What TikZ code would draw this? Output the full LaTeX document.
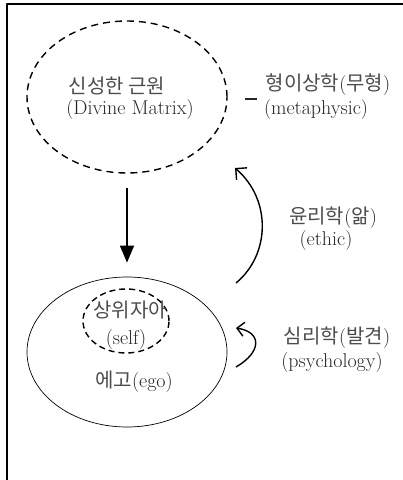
\documentclass[tikz,border=0pt]{standalone}
\usepackage{fontspec}
\newfontfamily\krfont{Noto Sans CJK KR}
\usetikzlibrary{shapes.geometric,arrows.meta}
\definecolor{labelgray}{gray}{0.15}
\definecolor{krgray}{gray}{0.3}
\newcommand{\ko}[1]{{\krfont\fontsize{20bp}{24bp}\selectfont\color{krgray}#1}}
\tikzset{
  lbl/.style={text=labelgray,font=\fontsize{20bp}{24bp}\selectfont,inner sep=0pt},
  realm/.style={ellipse,inner sep=0pt},
}
\begin{document}
\begin{tikzpicture}[>=latex,line join=bevel,]
\useasboundingbox (0bp,0bp) rectangle (403bp,480bp);
%%
\draw [line width=1.5bp] (7bp,0bp) -- (7bp,476bp) -- (403bp,476bp);
%
\node (node_0) at (127.0bp,383.0bp) [realm,draw,dashed,dash pattern=on 7bp off 5bp,line width=1.4bp,minimum width=200bp,minimum height=152bp] {};
  \node (node_1) at (127.0bp,128.0bp) [realm,draw,line width=0.7bp,minimum width=200bp,minimum height=150bp] {};
  \node (node_2) at (126.0bp,159.0bp) [realm,draw,dashed,dash pattern=on 6bp off 4bp,line width=1.4bp,minimum width=86bp,minimum height=64bp] {};
%
\node (label_0) at (117.0bp,394.0bp) [lbl] {\ko{신성한 근원}};
  \node (label_1) at (130.0bp,370.0bp) [lbl] {(Divine Matrix)};
  \node (dash_0) at (251.0bp,381.0bp) [lbl] {\rule{12bp}{1.3bp}};
  \node (label_2) at (328.0bp,395.0bp) [lbl] {\ko{형이상학}(\ko{무형})};
  \node (label_3) at (316.0bp,370.0bp) [lbl] {(metaphysic)};
  \node (label_4) at (333.0bp,262.0bp) [lbl] {\ko{윤리학}(\ko{앎})};
  \node (label_5) at (326.0bp,239.0bp) [lbl] {(ethic)};
  \node (label_6) at (337.0bp,142.0bp) [lbl] {\ko{심리학}(\ko{발견})};
  \node (label_7) at (332.0bp,117.0bp) [lbl] {(psychology)};
  \node (label_8) at (130.0bp,170.0bp) [lbl] {\ko{상위자아}};
  \node (label_9) at (126.0bp,140.0bp) [lbl] {(self)};
  \node (label_10) at (134.0bp,98.0bp) [lbl] {\ko{에고}(ego)};
%
\coordinate (ethic_start) at (236.0bp,197.0bp);
  \coordinate (ethic_end) at (235.0bp,312.0bp);
  \coordinate (psy_start) at (236.0bp,113.0bp);
  \coordinate (psy_end) at (236.0bp,152.0bp);
%
\draw [black,line width=1.4bp,-{Triangle[length=17bp,width=14bp]},shorten <=14bp,shorten >=14bp] (node_0.south) -- (node_1.north);
  \draw [black,line width=1.4bp,-{Straight Barb[length=8bp,width=16bp]}] (ethic_start) ..controls (270.0bp,225.0bp) and (272.0bp,280.0bp)  .. (ethic_end);
  \draw [black,line width=1.4bp,-{Straight Barb[length=7bp,width=14bp]}] (psy_start) ..controls (262.0bp,128.0bp) and (262.0bp,148.0bp)  .. (psy_end);
%
\end{tikzpicture}
\end{document}
